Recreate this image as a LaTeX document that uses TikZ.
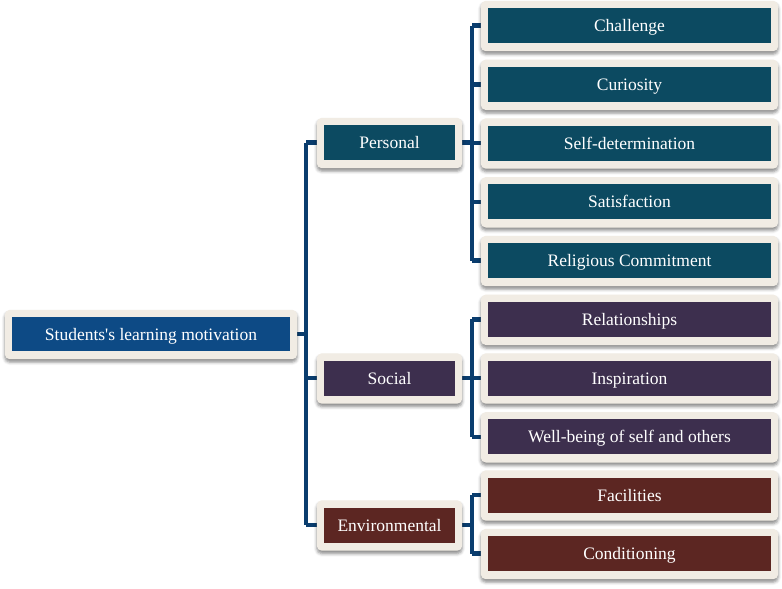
\documentclass[tikz,border=0pt]{standalone}
\usepackage{fontspec}
\setmainfont{Liberation Serif}
\usetikzlibrary{shadows.blur}
\pgfdeclarelayer{back}
\pgfdeclarelayer{mid}
\pgfsetlayers{back,mid,main}
\definecolor{rootc}{HTML}{0D4A85}
\definecolor{tealc}{HTML}{0C4A61}
\definecolor{purpc}{HTML}{3D2F4E}
\definecolor{marc}{HTML}{5C2622}
\definecolor{connc}{HTML}{0A3D6E}
\definecolor{framec}{HTML}{F1ECE4}
\tikzset{
  box/.style={text=white, font=\fontsize{17.5}{20}\selectfont, inner sep=0pt, minimum height=35pt, text height=14pt, text depth=2pt},
  leaf/.style={box, minimum width=283pt},
  midbox/.style={box, minimum width=131pt},
  conn/.style={draw=connc, line width=4.5pt},
  frame/.style={fill=framec, rounded corners=5pt,
    blur shadow={shadow xshift=0pt, shadow yshift=-3pt, shadow blur radius=3pt, shadow opacity=45}}
}
\begin{document}
\begin{tikzpicture}[x=1pt,y=-1pt]
\useasboundingbox (0,0) rectangle (782,589);
\node[box, fill=rootc, minimum width=278pt, minimum height=34pt] (root) at (151,334) {Students\textquotesingle s learning motivation};
\node[midbox, fill=tealc] (p) at (389.5,142.5) {Personal};
\node[midbox, fill=purpc] (s) at (389.5,378) {Social};
\node[midbox, fill=marc] (e) at (389.5,525) {Environmental};
\node[leaf, fill=tealc] (c1) at (629.5,25.5) {Challenge};
\node[leaf, fill=tealc] (c2) at (629.5,84.3) {Curiosity};
\node[leaf, fill=tealc] (c3) at (629.5,143) {Self-determination};
\node[leaf, fill=tealc] (c4) at (629.5,201.8) {Satisfaction};
\node[leaf, fill=tealc] (c5) at (629.5,260.5) {Religious Commitment};
\node[leaf, fill=purpc] (s1) at (629.5,319.3) {Relationships};
\node[leaf, fill=purpc] (s2) at (629.5,378) {Inspiration};
\node[leaf, fill=purpc] (s3) at (629.5,436.8) {Well-being of self and others};
\node[leaf, fill=marc] (e1) at (629.5,495) {Facilities};
\node[leaf, fill=marc] (e2) at (629.5,553.5) {Conditioning};
\begin{pgfonlayer}{mid}
\foreach \n in {root,p,s,e,c1,c2,c3,c4,c5,s1,s2,s3,e1,e2}{
  \path[frame] ([shift={(-7pt,-8pt)}]\n.south west) rectangle ([shift={(7pt,7pt)}]\n.north east);
}
\end{pgfonlayer}
\begin{pgfonlayer}{back}
\coordinate (rj) at (306,334);
\draw[conn] (root.east) -- (rj);
\draw[conn, line cap=butt] (rj |- p.west) -- (rj |- e.west);
\foreach \m in {p,s,e}{ \draw[conn] (rj |- \m.west) -- (\m.west); }
\coordinate (pj) at (472,142.5);
\draw[conn] (p.east) -- (pj);
\draw[conn] (pj |- c1.west) -- (pj |- c5.west);
\foreach \m in {c1,c2,c3,c4,c5}{ \draw[conn] (pj |- \m.west) -- (\m.west); }
\coordinate (sj) at (472,378);
\draw[conn] (s.east) -- (sj);
\draw[conn] (sj |- s1.west) -- (sj |- s3.west);
\foreach \m in {s1,s2,s3}{ \draw[conn] (sj |- \m.west) -- (\m.west); }
\coordinate (ej) at (472,525);
\draw[conn] (e.east) -- (ej);
\draw[conn] (ej |- e1.west) -- (ej |- e2.west);
\foreach \m in {e1,e2}{ \draw[conn] (ej |- \m.west) -- (\m.west); }
\end{pgfonlayer}
\end{tikzpicture}
\end{document}
